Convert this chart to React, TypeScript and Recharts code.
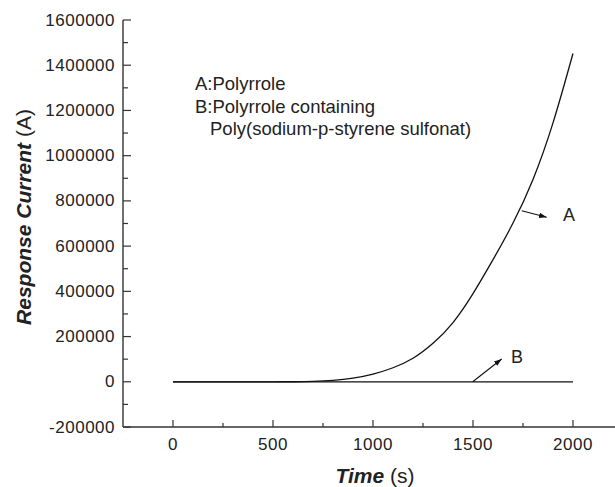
import React from "react";
import { LineChart, Line, XAxis, YAxis } from "recharts";

const times = [0, 100, 200, 300, 400, 500, 600, 700, 800, 900, 1000, 1100, 1200, 1300, 1400, 1500, 1600, 1700, 1800, 1900, 2000];
const currentA = [0, 0, 0, 0, 0, 0, 200, 1500, 6000, 16000, 34000, 62000, 104000, 170000, 262000, 390000, 540000, 702000, 895000, 1145000, 1452000];
const currentB = [0, 0, 0, 0, 0, 0, 0, 0, 0, 0, 0, 0, 0, 0, 0, 0, 0, 0, 0, 0, 0];

const xTicks = [0, 250, 500, 750, 1000, 1250, 1500, 1750, 2000];
const yTicks = [-200000, -100000, 0, 100000, 200000, 300000, 400000, 500000, 600000, 700000, 800000, 900000, 1000000, 1100000, 1200000, 1300000, 1400000, 1500000, 1600000];

const rows = times.map((t, i) => ({ t, a: currentA[i], b: currentB[i] }));

const FONT = "'Liberation Sans', Arial, Helvetica, sans-serif";
const INK = "#222";

function BottomTick(props: any) {
  const { x, y, payload } = props;
  const v = payload.value;
  const major = v % 500 === 0;
  return (
    <g>
      <line x1={x} y1={y} x2={x} y2={y - (major ? 7 : 4)} stroke="#333" strokeWidth={1.2} />
      {major && (
        <text x={x} y={y + 17} textAnchor="middle" dominantBaseline="central"
          fontFamily={FONT} fontSize={17} letterSpacing={0.5} fill={INK}>
          {v}
        </text>
      )}
    </g>
  );
}

function TopTick(props: any) {
  const { x, y, payload } = props;
  const major = payload.value % 500 === 0;
  return <line x1={x} y1={y} x2={x} y2={y + (major ? 7 : 4)} stroke="#333" strokeWidth={1.2} />;
}

function LeftTick(props: any) {
  const { x, y, payload } = props;
  const v = payload.value;
  const major = v % 200000 === 0;
  return (
    <g>
      <line x1={x} y1={y} x2={x + (major ? 8 : 5)} y2={y} stroke="#333" strokeWidth={1.2} />
      {major && (
        <text x={x - 8} y={y} textAnchor="end" dominantBaseline="central"
          fontFamily={FONT} fontSize={17} letterSpacing={0.5} fill={INK}>
          {v}
        </text>
      )}
    </g>
  );
}

export default function App() {
  return (
    <div style={{ position: "absolute", left: 0, top: 0, width: 615, height: 487, overflow: "hidden", background: "#fff" }}>
      <LineChart width={630} height={487} data={rows} margin={{ top: 20, right: 7, bottom: 0, left: 0 }}>
        <XAxis dataKey="t" type="number" domain={[-250, 2250]} ticks={xTicks} interval={0}
          height={60} tickSize={0} tickMargin={0} tick={<BottomTick />}
          axisLine={{ stroke: "#333", strokeWidth: 1.4 }} allowDataOverflow />
        <XAxis xAxisId="top" dataKey="t" type="number" orientation="top" domain={[-250, 2250]} ticks={xTicks}
          interval={0} height={0} tickSize={0} tickMargin={0} tick={<TopTick />}
          axisLine={{ stroke: "#333", strokeWidth: 1.4 }} allowDataOverflow />
        <YAxis type="number" domain={[-200000, 1600000]} ticks={yTicks} interval={0} width={123}
          tickSize={0} tickMargin={0} tick={<LeftTick />}
          axisLine={{ stroke: "#333", strokeWidth: 1.4 }} allowDataOverflow />
        <Line type="linear" dataKey="b" stroke="#111" strokeWidth={1.3} dot={false} isAnimationActive={false} />
        <Line type="natural" dataKey="a" stroke="#111" strokeWidth={1.3} dot={false} isAnimationActive={false} />
      </LineChart>
      <svg width={615} height={487} style={{ position: "absolute", left: 0, top: 0, pointerEvents: "none" }}>
        <defs>
          <marker id="head" viewBox="0 0 10 10" refX="10" refY="5" markerWidth="7" markerHeight="7" orient="auto">
            <path d="M0,1.5 L10,5 L0,8.5 z" fill="#111" />
          </marker>
        </defs>
        <text transform="translate(23,217) rotate(-90)" textAnchor="middle" dominantBaseline="central"
          fontFamily={FONT} fontSize={21} fill={INK}>
          <tspan fontWeight="bold" fontStyle="italic">Response Current</tspan>
          <tspan> (A)</tspan>
        </text>
        <text x={375} y={475} textAnchor="middle" dominantBaseline="central" fontFamily={FONT} fontSize={21} fill={INK}>
          <tspan fontWeight="bold" fontStyle="italic">Time</tspan>
          <tspan> (s)</tspan>
        </text>
        <g fontFamily={FONT} fontSize={18.5} fill={INK}>
          <text x={195} y={90}>A:Polyrrole</text>
          <text x={195} y={113}>B:Polyrrole containing</text>
          <text x={210} y={135}>Poly(sodium-p-styrene sulfonat)</text>
          <text x={563} y={221} fontSize={18}>A</text>
          <text x={511} y={363} fontSize={18}>B</text>
        </g>
        <line x1={521.7} y1={210.7} x2={546.7} y2={217.3} stroke="#111" strokeWidth={1.1} markerEnd="url(#head)" />
        <line x1={472.7} y1={381.7} x2={501.7} y2={359} stroke="#111" strokeWidth={1.1} markerEnd="url(#head)" />
      </svg>
    </div>
  );
}
